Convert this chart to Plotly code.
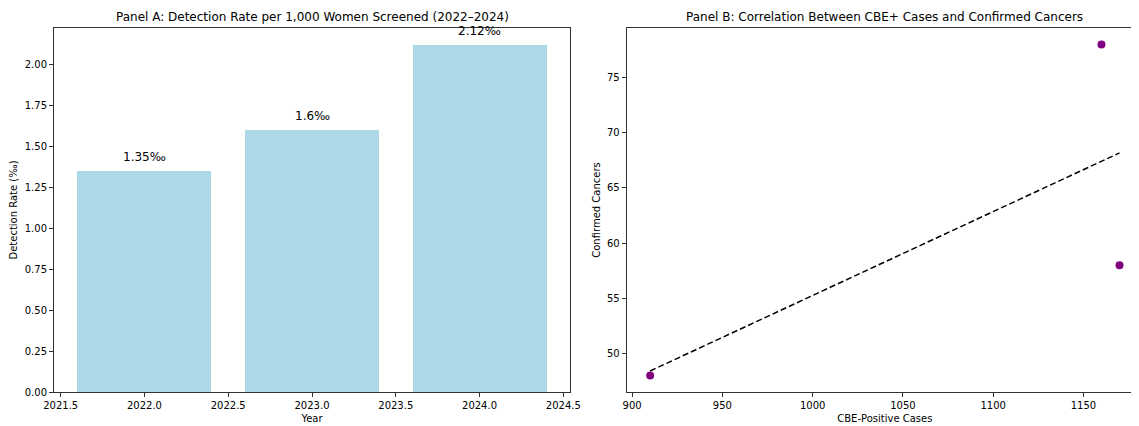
import numpy as np
import plotly.graph_objects as go
from plotly.subplots import make_subplots

# Panel A data
years = [2022, 2023, 2024]
detection_rate = [1.35, 1.6, 2.12]

# Panel B data
cbe_positive = [910, 1160, 1170]
confirmed_cancers = [48, 78, 58]

FONT = "DejaVu Sans"
W, H = 1139, 426
OFF = 8  # page body margin offset
ML, MR, MT, MB = 54 - OFF, 4, 28 - OFF, 426 - (392 - OFF)
pw = W - ML - MR

fig = make_subplots(rows=1, cols=2)

fig.add_trace(go.Bar(x=years, y=detection_rate, width=0.8,
                     marker=dict(color="#add8e6", line=dict(width=0)),
                     showlegend=False), row=1, col=1)

for x, v in zip(years, detection_rate):
    fig.add_annotation(x=x, y=v + 0.05, xref="x", yref="y", text=f"{v}‰",
                       showarrow=False, yanchor="bottom", yshift=-3,
                       font=dict(family=FONT, size=12, color="black"))

fig.add_trace(go.Scatter(x=cbe_positive, y=confirmed_cancers, mode="markers",
                         marker=dict(color="purple", size=8),
                         showlegend=False), row=1, col=2)

slope, intercept = np.polyfit(cbe_positive, confirmed_cancers, 1)
xl = np.array([min(cbe_positive), max(cbe_positive)])
fig.add_trace(go.Scatter(x=xl, y=slope * xl + intercept, mode="lines",
                         line=dict(color="black", width=1.5, dash="6px,3px"),
                         showlegend=False), row=1, col=2)

axis_common = dict(showgrid=False, zeroline=False, showline=True, linecolor="#333",
                   linewidth=1, ticks="outside", ticklen=4, tickcolor="#333",
                   automargin=False, mirror=True,
                   tickfont=dict(family=FONT, size=10, color="black"))

fig.update_xaxes(**axis_common)
fig.update_yaxes(**axis_common)

fig.update_xaxes(row=1, col=1, domain=[0, (570 - 54) / pw], range=[2021.46, 2024.54],
                 tickmode="array", tickvals=[2021.5, 2022, 2022.5, 2023, 2023.5, 2024, 2024.5],
                 ticktext=["2021.5", "2022.0", "2022.5", "2023.0", "2023.5", "2024.0", "2024.5"],
                 title=dict(text="Year", font=dict(family=FONT, size=10, color="black"), standoff=4))
fig.update_yaxes(row=1, col=1, range=[0, 2.226], tickmode="linear", tick0=0, dtick=0.25,
                 tickformat=".2f",
                 title=dict(text="Detection Rate (‰)", font=dict(family=FONT, size=10, color="black"), standoff=6))

fig.update_xaxes(row=1, col=2, domain=[(626.7 - 54) / pw, 1], range=[897, 1183],
                 tickmode="linear", tick0=900, dtick=50,
                 title=dict(text="CBE-Positive Cases", font=dict(family=FONT, size=10, color="black"), standoff=4))
fig.update_yaxes(row=1, col=2, range=[46.5, 79.5], tickmode="linear", tick0=50, dtick=5,
                 title=dict(text="Confirmed Cancers", font=dict(family=FONT, size=10, color="black"), standoff=4))

fig.add_annotation(text="Panel A: Detection Rate per 1,000 Women Screened (2022–2024)",
                   xref="x domain", yref="paper", x=0.5, y=1, yshift=2, yanchor="bottom",
                   showarrow=False, font=dict(family=FONT, size=12, color="black"))
fig.add_annotation(text="Panel B: Correlation Between CBE+ Cases and Confirmed Cancers",
                   xref="x2 domain", yref="paper", x=0.5, y=1, yshift=2,
                   yanchor="bottom", showarrow=False, font=dict(family=FONT, size=12, color="black"))

fig.update_layout(width=W, height=H, margin=dict(l=ML, r=MR, t=MT, b=MB),
                  plot_bgcolor="white", paper_bgcolor="white", bargap=0,
                  font=dict(family=FONT, color="black"))

fig.write_html("out.html")
